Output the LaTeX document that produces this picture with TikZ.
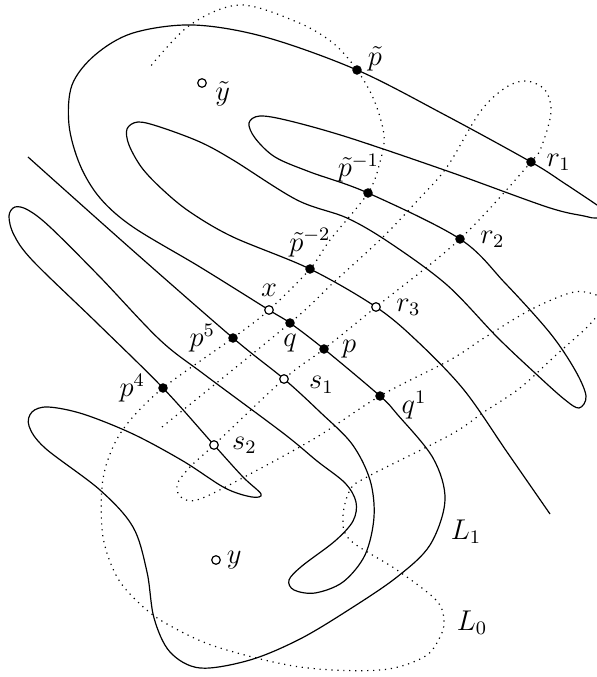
\documentclass[tikz,border=0pt]{standalone}
\usepackage{amsmath}
\usepackage{amssymb}
\usetikzlibrary{calc, positioning}

\begin{document}
\begin{tikzpicture}[x=0.01476cm, y=-0.01476cm, line width=0.5pt, font=\large,
  ball/.style={fill=black},
  hole/.style={draw=black, fill=white, line width=0.5pt},
  mfold/.style={smooth, tension=0.55}]
\def\rdot{2pt}
\def\rhole{1.8pt}

\useasboundingbox (0,0) rectangle (597,677);
\clip (0,0) rectangle (597,677);

\coordinate (tp) at (357,70);
\coordinate (ty) at (202,83);
\coordinate (r1) at (531,162);
\coordinate (tpa) at (368,193);
\coordinate (r2) at (460,239);
\coordinate (tpb) at (310,269);
\coordinate (r3) at (376,307);
\coordinate (xx) at (269,310);
\coordinate (q) at (290,323);
\coordinate (p) at (324,349);
\coordinate (p5) at (233,338);
\coordinate (s1) at (284,379);
\coordinate (p4) at (163,388);
\coordinate (q1) at (380,396);
\coordinate (s2) at (214,445);
\coordinate (yy) at (216,560);

\draw plot[mfold] coordinates {(28,157) (130,248) (p5) (s1) (320,412)
  (352,444) (370,480) (374,517) (365,555) (343,582) (315,593) (294,590)
  (289,580) (302,566) (335,541) (353,521) (356,502) (345,483) (317,461)
  (283,433) (205,375) (160,340) (100,277) (50,227) (28,210) (15,207)
  (9,216) (14,235) (33,261) (97,323) (p4) (s2) (243,477) (261,494)
  (252,497) (225,488) (183,461) (133,434) (83,414) (48,407) (32,412)
  (29,426) (45,448) (100,490) (133,527) (147,572) (154,618) (170,652)
  (200,668) (250,660) (300,639) (350,609) (397,577) (430,545) (445,500)
  (433,458) (397,414) (q1) (p) (q) (xx) (200,267) (133,227) (100,198)
  (80,165) (69,125) (72,85) (95,55) (133,33) (193,25) (265,37) (tp)
  (445,115) (r1) (564,183) (597,205) (607,212) (597,218) (584,216)
  (547,207) (450,172) (350,138) (290,121) (260,116) (249,123) (255,138)
  (275,157) (310,172) (tpa) (r2) (505,283) (550,333) (575,370) (586,396)
  (579,408) (564,399) (535,373) (497,337) (447,285) (390,243) (347,218)
  (297,200) (233,160) (200,142) (160,127) (138,122) (127,129) (129,145)
  (142,168) (163,190) (190,212) (233,237) (tpb) (r3) (417,341) (464,390)
  (507,452) (550,514)};

\draw[dotted] plot[mfold] coordinates {(162,427) (q) (333,283) (383,237)
  (418,200) (447,167) (480,112) (505,88) (526,81) (545,90) (551,112)
  (542,145) (r1) (r2) (r3) (p) (s1) (s2) (190,467) (177,485) (182,498)
  (200,499) (250,474) (317,437) (q1) (450,360) (484,338) (530,310)
  (570,293) (590,293) (603,301) (592,322) (555,356) (520,388) (484,412)
  (450,435) (367,477) (350,490) (343,517) (350,540) (397,570) (436,600)
  (444,620) (440,637) (424,657) (380,670) (300,667) (217,647) (167,624)
  (140,604) (117,577) (103,537) (102,487) (110,454) (127,424) (p4) (p5)
  (xx) (tpb) (330,240) (tpa) (380,162) (384,135) (374,100) (tp) (333,43)
  (297,22) (240,5) (190,25) (150,67)};

\foreach \c in {tp,r1,tpa,r2,tpb,q,p,p5,p4,q1}
  \path[ball] (\c) circle (\rdot);
\foreach \c in {ty,r3,xx,s1,s2,yy}
  \path[hole] (\c) circle (\rhole);

\node[right=1pt of tp, yshift=4.6pt] (ltp) {$\tilde{p}$};
\node[right=2pt of ty, yshift=-4.5pt] (lty) {$\tilde{y}$};
\node[right=3pt of r1] (lr1) {$r_1$};
\node[above=1pt of tpa, xshift=-4pt] (ltpa) {$\tilde{p}^{-1}$};
\node[right=5pt of r2] (lr2) {$r_2$};
\node[above=1.5pt of tpb] (ltpb) {$\tilde{p}^{-2}$};
\node[right=5pt of r3] (lr3) {$r_3$};
\node[above=2pt of xx] (lxx) {$x$};
\node[below=1pt of q] (lq) {$q$};
\node[right=4pt of p] (lp) {$p$};
\node[left=4pt of p5] (lp5) {$p^5$};
\node[right=7pt of s1, yshift=-2.5pt] (ls1) {$s_1$};
\node[left=4pt of p4] (lp4) {$p^4$};
\node[right=5.5pt of q1, yshift=-3.8pt] (lq1) {$q^1$};
\node[right=4pt of s2] (ls2) {$s_2$};
\node[right=1pt of yy] (lyy) {$y$};
\node (lL1) at (466,532) {$L_1$};
\node (lL0) at (472,623) {$L_0$};
\end{tikzpicture}
\end{document}
